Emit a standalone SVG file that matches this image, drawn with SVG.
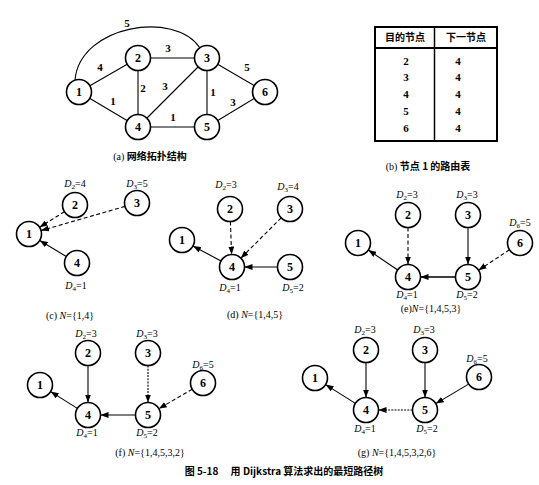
<svg xmlns="http://www.w3.org/2000/svg" width="539" height="485" viewBox="0 0 539 485">
<defs>
<style>
.n circle{fill:#fff;stroke:#000;stroke-width:1.6}
.n text{font-family:"Liberation Serif",serif;font-size:12px;font-weight:bold;text-anchor:middle;fill:#000}
.e line,.e path{stroke:#000;stroke-width:1.1;fill:none}
.d{stroke-dasharray:4 2.5}
.dt{stroke-dasharray:2 1.2}
.w{font-family:"Liberation Serif",serif;font-size:11px;font-weight:bold;text-anchor:middle;fill:#000}
.lb{font-family:"Liberation Serif",serif;font-size:10px;text-anchor:middle;fill:#000}
.cap{font-family:"Liberation Serif","Noto Sans CJK SC",serif;font-size:10px;text-anchor:middle;fill:#000}
.zh{font-family:"Noto Sans CJK SC",sans-serif;font-weight:bold}
.t{fill:none;stroke:#000}
</style>
<marker id="ar" viewBox="0 0 8 6" refX="8" refY="3" markerWidth="8" markerHeight="6" markerUnits="userSpaceOnUse" orient="auto">
<path d="M0,0 L8,3 L0,6 Z" fill="#000"/>
</marker>
</defs>
<rect width="539" height="485" fill="#fff"/>

<!-- connectors -->
<g id="connectors" class="e">
<!-- (a) -->
<path d="M75,80 C80,25 175,10 200,48"/>
<line x1="79" y1="92" x2="138" y2="58"/>
<line x1="79" y1="92" x2="138" y2="127"/>
<line x1="138" y1="58" x2="207" y2="58"/>
<line x1="138" y1="58" x2="138" y2="127"/>
<line x1="138" y1="127" x2="207" y2="58"/>
<line x1="138" y1="127" x2="207" y2="127"/>
<line x1="207" y1="58" x2="207" y2="127"/>
<line x1="207" y1="58" x2="265" y2="92"/>
<line x1="207" y1="127" x2="265" y2="92"/>
<!-- (c) -->
<line class="d" x1="64.4" y1="211.7" x2="39.6" y2="227.3" marker-end="url(#ar)"/>
<line class="d" x1="125" y1="206.4" x2="41" y2="230.6" marker-end="url(#ar)"/>
<line x1="66.3" y1="256.5" x2="39.7" y2="240.5" marker-end="url(#ar)"/>
<!-- (d) -->
<line class="d" x1="230.4" y1="221.5" x2="231.6" y2="254.5" marker-end="url(#ar)"/>
<line class="d" x1="281.2" y1="217.8" x2="240.8" y2="258.2" marker-end="url(#ar)"/>
<line x1="277.5" y1="267" x2="244.5" y2="267" marker-end="url(#ar)"/>
<line x1="221" y1="261.1" x2="193" y2="245.9" marker-end="url(#ar)"/>
<!-- (e) -->
<line class="d" x1="408" y1="227.5" x2="408" y2="264.5" marker-end="url(#ar)"/>
<line x1="468" y1="227.5" x2="468" y2="264.5" marker-end="url(#ar)"/>
<line class="d" x1="509.5" y1="249.8" x2="478.5" y2="270.2" marker-end="url(#ar)"/>
<line x1="455.5" y1="277" x2="420.5" y2="277" marker-end="url(#ar)" style="stroke-width:1.6"/>
<line x1="397.7" y1="270" x2="368.3" y2="250" marker-end="url(#ar)"/>
<!-- (f) -->
<line x1="88" y1="365.5" x2="88" y2="402.5" marker-end="url(#ar)"/>
<line class="dt" x1="148" y1="365.5" x2="148" y2="402.5" marker-end="url(#ar)"/>
<line class="d" x1="192.2" y1="389.3" x2="158.8" y2="408.7" marker-end="url(#ar)"/>
<line x1="135.5" y1="415" x2="100.5" y2="415" marker-end="url(#ar)"/>
<line x1="77.4" y1="408.4" x2="50.6" y2="391.6" marker-end="url(#ar)"/>
<!-- (g) -->
<line x1="366" y1="362.5" x2="366" y2="397.5" marker-end="url(#ar)"/>
<line x1="425" y1="362.5" x2="425" y2="397.5" marker-end="url(#ar)"/>
<line x1="468.2" y1="384.4" x2="435.8" y2="403.6" marker-end="url(#ar)"/>
<line class="dt" x1="412.5" y1="410" x2="378.5" y2="410" marker-end="url(#ar)"/>
<line x1="355.4" y1="403.4" x2="325.6" y2="384.6" marker-end="url(#ar)"/>
</g>

<!-- (a) weights -->
<g id="weights">
<text class="w" x="127" y="27">5</text>
<text class="w" x="100" y="71">4</text>
<text class="w" x="168" y="52">3</text>
<text class="w" x="143" y="92">2</text>
<text class="w" x="165" y="90">3</text>
<text class="w" x="113" y="105">1</text>
<text class="w" x="213" y="96">1</text>
<text class="w" x="247" y="71">5</text>
<text class="w" x="233" y="106">3</text>
<text class="w" x="173" y="121">1</text>
</g>

<!-- (a) nodes -->
<g id="a1" class="n"><circle cx="79" cy="92" r="12.5"/><text x="79" y="96">1</text></g>
<g id="a2" class="n"><circle cx="138" cy="58" r="12.5"/><text x="138" y="62">2</text></g>
<g id="a3" class="n"><circle cx="207" cy="58" r="12.5"/><text x="207" y="62">3</text></g>
<g id="a4" class="n"><circle cx="138" cy="127" r="12.5"/><text x="138" y="131">4</text></g>
<g id="a5" class="n"><circle cx="207" cy="127" r="12.5"/><text x="207" y="131">5</text></g>
<g id="a6" class="n"><circle cx="265" cy="92" r="12.5"/><text x="265" y="96">6</text></g>
<text class="cap" x="150" y="160">(a) <tspan class="zh">网络拓扑结构</tspan></text>

<!-- (b) table -->
<g id="table">
<rect class="t" x="375" y="27" width="122" height="114" stroke-width="2"/>
<line class="t" x1="375" y1="48" x2="497" y2="48" stroke-width="2"/>
<line class="t" x1="434.5" y1="27" x2="434.5" y2="141" stroke-width="1.5"/>
<text class="cap zh" x="405" y="41">目的节点</text>
<text class="cap zh" x="466" y="41">下一节点</text>
<g class="w" style="font-size:11px">
<text x="406" y="65">2</text><text x="458" y="65">4</text>
<text x="406" y="81">3</text><text x="458" y="81">4</text>
<text x="406" y="98">4</text><text x="458" y="98">4</text>
<text x="406" y="115">5</text><text x="458" y="115">4</text>
<text x="406" y="132">6</text><text x="458" y="132">4</text>
</g>
<text class="cap" x="428" y="170">(b) <tspan class="zh">节点 1 的路由表</tspan></text>
</g>

<!-- (c) -->
<g id="c1" class="n"><circle cx="29" cy="234" r="12.5"/><text x="29" y="238">1</text></g>
<g id="c2" class="n"><circle cx="75" cy="205" r="12.5"/><text x="75" y="209">2</text></g>
<g id="c3" class="n"><circle cx="137" cy="203" r="12.5"/><text x="137" y="207">3</text></g>
<g id="c4" class="n"><circle cx="77" cy="263" r="12.5"/><text x="77" y="267">4</text></g>
<text class="lb" x="75" y="187"><tspan font-style="italic">D</tspan><tspan font-size="7" dy="2">2</tspan><tspan dy="-2">=4</tspan></text>
<text class="lb" x="137" y="187"><tspan font-style="italic">D</tspan><tspan font-size="7" dy="2">3</tspan><tspan dy="-2">=5</tspan></text>
<text class="lb" x="76" y="289"><tspan font-style="italic">D</tspan><tspan font-size="7" dy="2">4</tspan><tspan dy="-2">=1</tspan></text>
<text class="cap" x="70" y="319">(c) <tspan font-style="italic">N</tspan>={1,4}</text>

<!-- (d) -->
<g id="d1" class="n"><circle cx="182" cy="240" r="12.5"/><text x="182" y="244">1</text></g>
<g id="d2" class="n"><circle cx="230" cy="209" r="12.5"/><text x="230" y="213">2</text></g>
<g id="d3" class="n"><circle cx="290" cy="209" r="12.5"/><text x="290" y="213">3</text></g>
<g id="d4" class="n"><circle cx="232" cy="267" r="12.5"/><text x="232" y="271">4</text></g>
<g id="d5" class="n"><circle cx="290" cy="267" r="12.5"/><text x="290" y="271">5</text></g>
<text class="lb" x="226" y="188"><tspan font-style="italic">D</tspan><tspan font-size="7" dy="2">2</tspan><tspan dy="-2">=3</tspan></text>
<text class="lb" x="288" y="190"><tspan font-style="italic">D</tspan><tspan font-size="7" dy="2">3</tspan><tspan dy="-2">=4</tspan></text>
<text class="lb" x="230" y="291"><tspan font-style="italic">D</tspan><tspan font-size="7" dy="2">4</tspan><tspan dy="-2">=1</tspan></text>
<text class="lb" x="293" y="291"><tspan font-style="italic">D</tspan><tspan font-size="7" dy="2">5</tspan><tspan dy="-2">=2</tspan></text>
<text class="cap" x="255" y="318">(d) <tspan font-style="italic">N</tspan>={1,4,5}</text>

<!-- (e) -->
<g id="e1" class="n"><circle cx="358" cy="243" r="12.5"/><text x="358" y="247">1</text></g>
<g id="e2" class="n"><circle cx="408" cy="215" r="12.5"/><text x="408" y="219">2</text></g>
<g id="e3" class="n"><circle cx="468" cy="215" r="12.5"/><text x="468" y="219">3</text></g>
<g id="e4" class="n"><circle cx="408" cy="277" r="12.5"/><text x="408" y="281">4</text></g>
<g id="e5" class="n"><circle cx="468" cy="277" r="12.5"/><text x="468" y="281">5</text></g>
<g id="e6" class="n"><circle cx="520" cy="243" r="12.5"/><text x="520" y="247">6</text></g>
<text class="lb" x="407" y="198"><tspan font-style="italic">D</tspan><tspan font-size="7" dy="2">2</tspan><tspan dy="-2">=3</tspan></text>
<text class="lb" x="467" y="198"><tspan font-style="italic">D</tspan><tspan font-size="7" dy="2">3</tspan><tspan dy="-2">=3</tspan></text>
<text class="lb" x="520" y="226"><tspan font-style="italic">D</tspan><tspan font-size="7" dy="2">6</tspan><tspan dy="-2">=5</tspan></text>
<text class="lb" x="407" y="298"><tspan font-style="italic">D</tspan><tspan font-size="7" dy="2">4</tspan><tspan dy="-2">=1</tspan></text>
<text class="lb" x="467" y="298"><tspan font-style="italic">D</tspan><tspan font-size="7" dy="2">5</tspan><tspan dy="-2">=2</tspan></text>
<text class="cap" x="431" y="312">(e)<tspan font-style="italic">N</tspan>={1,4,5,3}</text>

<!-- (f) -->
<g id="f1" class="n"><circle cx="40" cy="385" r="12.5"/><text x="40" y="389">1</text></g>
<g id="f2" class="n"><circle cx="88" cy="353" r="12.5"/><text x="88" y="357">2</text></g>
<g id="f3" class="n"><circle cx="148" cy="353" r="12.5"/><text x="148" y="357">3</text></g>
<g id="f4" class="n"><circle cx="88" cy="415" r="12.5"/><text x="88" y="419">4</text></g>
<g id="f5" class="n"><circle cx="148" cy="415" r="12.5"/><text x="148" y="419">5</text></g>
<g id="f6" class="n"><circle cx="203" cy="383" r="12.5"/><text x="203" y="387">6</text></g>
<text class="lb" x="86" y="337"><tspan font-style="italic">D</tspan><tspan font-size="7" dy="2">2</tspan><tspan dy="-2">=3</tspan></text>
<text class="lb" x="147" y="337"><tspan font-style="italic">D</tspan><tspan font-size="7" dy="2">3</tspan><tspan dy="-2">=3</tspan></text>
<text class="lb" x="203" y="368"><tspan font-style="italic">D</tspan><tspan font-size="7" dy="2">6</tspan><tspan dy="-2">=5</tspan></text>
<text class="lb" x="87" y="436"><tspan font-style="italic">D</tspan><tspan font-size="7" dy="2">4</tspan><tspan dy="-2">=1</tspan></text>
<text class="lb" x="147" y="436"><tspan font-style="italic">D</tspan><tspan font-size="7" dy="2">5</tspan><tspan dy="-2">=2</tspan></text>
<text class="cap" x="150" y="456">(f) <tspan font-style="italic">N</tspan>={1,4,5,3,2}</text>

<!-- (g) -->
<g id="g1" class="n"><circle cx="315" cy="378" r="12.5"/><text x="315" y="382">1</text></g>
<g id="g2" class="n"><circle cx="366" cy="350" r="12.5"/><text x="366" y="354">2</text></g>
<g id="g3" class="n"><circle cx="425" cy="350" r="12.5"/><text x="425" y="354">3</text></g>
<g id="g4" class="n"><circle cx="366" cy="410" r="12.5"/><text x="366" y="414">4</text></g>
<g id="g5" class="n"><circle cx="425" cy="410" r="12.5"/><text x="425" y="414">5</text></g>
<g id="g6" class="n"><circle cx="479" cy="377" r="12.5"/><text x="479" y="381">6</text></g>
<text class="lb" x="365" y="333"><tspan font-style="italic">D</tspan><tspan font-size="7" dy="2">2</tspan><tspan dy="-2">=3</tspan></text>
<text class="lb" x="424" y="333"><tspan font-style="italic">D</tspan><tspan font-size="7" dy="2">3</tspan><tspan dy="-2">=3</tspan></text>
<text class="lb" x="477" y="362"><tspan font-style="italic">D</tspan><tspan font-size="7" dy="2">6</tspan><tspan dy="-2">=5</tspan></text>
<text class="lb" x="365" y="432"><tspan font-style="italic">D</tspan><tspan font-size="7" dy="2">4</tspan><tspan dy="-2">=1</tspan></text>
<text class="lb" x="427" y="432"><tspan font-style="italic">D</tspan><tspan font-size="7" dy="2">5</tspan><tspan dy="-2">=2</tspan></text>
<text class="cap" x="397" y="456">(g) <tspan font-style="italic">N</tspan>={1,4,5,3,2,6}</text>

<text class="cap zh" x="284" y="475" style="font-size:10px">图 5-18　 用 Dijkstra 算法求出的最短路径树</text>
</svg>
